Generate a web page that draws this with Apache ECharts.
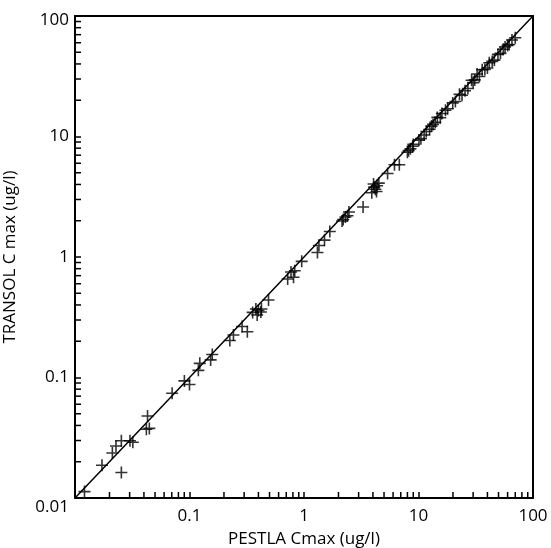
<!DOCTYPE html>
<html>
<head>
<meta charset="utf-8">
<script src="https://cdn.jsdelivr.net/npm/echarts@6/dist/echarts.min.js"></script>
<style>
  html, body { margin: 0; padding: 0; background: #fff; }
  #main_chart { width: 551px; height: 548px; }
</style>
</head>
<body>
<div id="main_chart"></div>
<script>
// PESTLA (x) vs TRANSOL (y) Cmax, ug/l
var pestla = [0.0121, 0.0172, 0.0254, 0.0212, 0.0228, 0.0254, 0.0302, 0.032, 0.043, 0.0446, 0.042,
    0.0705, 0.0902, 0.1, 0.1195, 0.123, 0.158, 0.153, 0.225, 0.242, 0.288, 0.32, 0.356, 0.38, 0.4, 0.42,
    0.425, 0.49, 0.39, 0.72, 0.77, 0.83, 0.81, 0.955, 1.31, 1.35, 1.51, 1.68, 2.15, 2.2, 2.3, 2.4, 2.47,
    3.28, 3.91, 4.1, 4.2, 4.35, 4.5, 4.3, 4.05, 5.37, 6.17, 6.8, 8.0, 8.2, 8.5, 8.9, 9.0, 10.1, 10.5,
    11.2, 11.7, 12.5, 13.0, 13.4, 14.0, 14.6, 15.5, 16.0, 17.2, 18.0, 19.9, 21.0, 22.8, 24.0, 25.5, 27.0,
    29.1, 30.0, 31.0, 32.5, 34.0, 36.0, 38.0, 40.0, 41.5, 44.0, 46.0, 49.4, 52.0, 55.0, 57.0, 60.0, 62.0,
    65.5, 70.0];
var transol = [0.0113, 0.0187, 0.0163, 0.0236, 0.027, 0.0299, 0.0299, 0.029, 0.0479, 0.0378, 0.0372,
    0.074, 0.0937, 0.0876, 0.1146, 0.131, 0.155, 0.14, 0.203, 0.225, 0.265, 0.24, 0.347, 0.37, 0.36, 0.35,
    0.37, 0.44, 0.33, 0.657, 0.75, 0.77, 0.68, 0.92, 1.09, 1.245, 1.38, 1.63, 1.99, 2.05, 2.15, 2.2, 2.36,
    2.6, 3.41, 3.8, 3.65, 3.9, 4.1, 3.5, 4.03, 4.93, 5.83, 5.83, 7.4, 7.63, 7.9, 8.3, 8.6, 9.33, 9.6,
    10.3, 11.0, 11.5, 12.2, 12.6, 13.1, 14.4, 14.3, 15.5, 16.5, 17.0, 19.0, 19.5, 22.4, 22.0, 24.0, 25.0,
    29.3, 28.0, 29.5, 33.0, 31.5, 35.8, 36.0, 37.0, 40.9, 42.0, 43.0, 48.0, 49.0, 53.0, 55.4, 57.0, 58.0,
    63.2, 66.0];
var decades = [0.01, 0.1, 1, 10, 100];
var oneToOne = [[0.01, 0.01], [100, 100]];

// minor ticks 2..9 in each decade
var minorTicks = [];
for (var d = 0; d < decades.length - 1; d++) {
    for (var k = 2; k <= 9; k++) {
        minorTicks.push(+(decades[d] * k).toPrecision(3));
    }
}

var points = pestla.map(function (x, i) { return [x, transol[i]]; });
var fontName = 'Open Sans';
var tickLen = 6;

const myChart = echarts.init(document.getElementById('main_chart'));

function tickItem(horizontal) {
    return function (params, api) {
        var p = api.coord([api.value(0), api.value(1)]);
        return {
            type: 'line',
            shape: horizontal
                ? { x1: p[0], y1: p[1], x2: p[0] + tickLen, y2: p[1] }
                : { x1: p[0], y1: p[1], x2: p[0], y2: p[1] - tickLen },
            style: { stroke: '#000', lineWidth: 1.5 }
        };
    };
}

var lineOnly = {
    axisLine: { show: true, lineStyle: { color: '#000', width: 2 } },
    axisTick: { show: false },
    axisLabel: { show: false },
    splitLine: { show: false }
};

var option = {
    backgroundColor: '#fff',
    animation: false,
    grid: { left: 75, right: 18, top: 16, bottom: 50, outerBoundsMode: 'none', containLabel: false },
    xAxis: [{
        type: 'log', min: 0.01, max: 100,
        name: 'PESTLA Cmax (ug/l)', nameLocation: 'middle', nameGap: 33,
        nameTextStyle: { color: '#000', fontSize: 17, fontFamily: fontName },
        axisLine: { lineStyle: { color: '#000', width: 2 } },
        axisTick: { show: true, inside: true, length: tickLen, lineStyle: { color: '#000', width: 1.5 } },
        axisLabel: {
            color: '#000', fontSize: 17, fontFamily: fontName, margin: 10, showMinLabel: false,
            formatter: function (v) { return String(+v.toPrecision(3)); }
        },
        splitLine: { show: false }
    }, Object.assign({ type: 'log', min: 0.01, max: 100, position: 'top' }, lineOnly)],
    yAxis: [{
        type: 'log', min: 0.01, max: 100,
        name: 'TRANSOL C max (ug/l)', nameLocation: 'middle', nameGap: 56,
        nameTextStyle: { color: '#000', fontSize: 17, fontFamily: fontName },
        axisLine: { show: true, lineStyle: { color: '#000', width: 2 } },
        axisTick: { show: true, inside: true, length: tickLen, lineStyle: { color: '#000', width: 1.5 } },
        axisLabel: {
            color: '#000', fontSize: 17, fontFamily: fontName, margin: 6,
            formatter: function (v) {
                var s = String(+v.toPrecision(3));
                if (v <= 0.0101) return '{low|' + s + '}';
                if (v >= 99) return '{high|' + s + '}';
                return s;
            },
            rich: {
                low: { color: '#000', fontSize: 17, fontFamily: fontName, padding: [18, 0, 0, 0] },
                high: { color: '#000', fontSize: 17, fontFamily: fontName, padding: [8, 0, 0, 0] }
            }
        },
        splitLine: { show: false }
    }, Object.assign({ type: 'log', min: 0.01, max: 100, position: 'right' }, lineOnly)],
    series: [
        {
            name: '1:1',
            type: 'line',
            data: oneToOne,
            symbol: 'none',
            lineStyle: { color: '#000', width: 1.5 },
            z: 3
        },
        {
            name: 'Cmax',
            type: 'scatter',
            data: points,
            symbol: 'path://M0,6L12,6M6,0L6,12',
            symbolSize: 12,
            itemStyle: { color: 'none', borderColor: '#000', borderWidth: 1.6 },
            z: 4
        },
        {
            name: 'minorX',
            type: 'custom',
            data: minorTicks.map(function (v) { return [v, 0.01]; }),
            renderItem: tickItem(false)
        },
        {
            name: 'minorY',
            type: 'custom',
            data: minorTicks.map(function (v) { return [0.01, v]; }),
            renderItem: tickItem(true)
        }
    ]
};

myChart.setOption(option);
window.onresize = function () {
    myChart.resize();
};
</script>
</body>
</html>
